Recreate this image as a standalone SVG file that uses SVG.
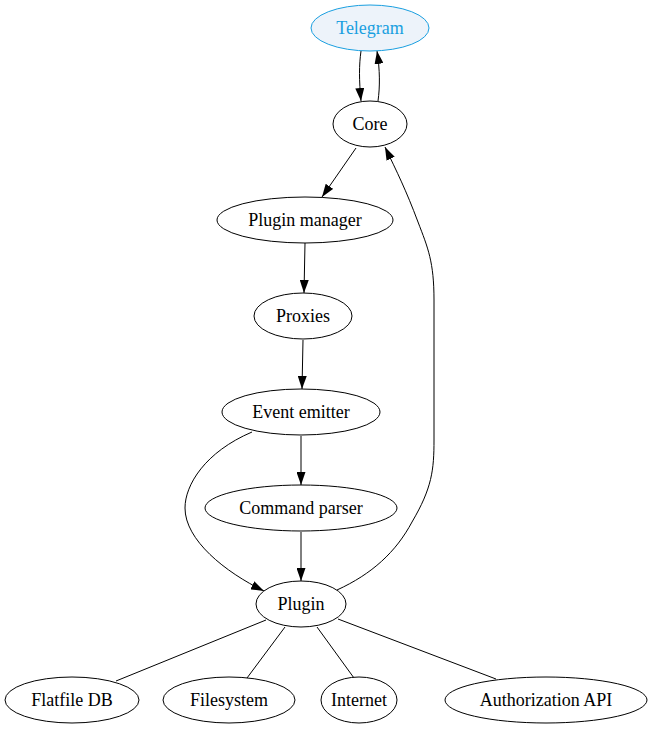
<svg xmlns="http://www.w3.org/2000/svg" width="654" height="731" viewBox="0 0 654 731">
<style>
.n ellipse{fill:#ffffff;stroke:#000000;stroke-width:1}
.n text{font-family:"Liberation Serif","Times New Roman",serif;font-size:18px;fill:#000000;text-anchor:middle}
#telegram ellipse{fill:#edf3fa;stroke:#1a9fe0}
#telegram text{fill:#1a9fe0}
.e path{fill:none;stroke:#000000;stroke-width:1}
</style>
<defs>
<marker id="ah" viewBox="0 0 13 9" refX="13" refY="4.5" markerWidth="13" markerHeight="9" markerUnits="userSpaceOnUse" orient="auto">
<path d="M0,0 L13,4.5 L0,9 Z" fill="#000000" stroke="none"/>
</marker>
</defs>
<rect width="654" height="731" fill="#ffffff"/>
<g id="edges" class="e">
<path d="M361,51 C359,65 359,80 361,101" marker-end="url(#ah)"/>
<path d="M378,101 C380,87 380,70 377,51" marker-end="url(#ah)"/>
<path d="M356,148 L322,197" marker-end="url(#ah)"/>
<path d="M305,243 L304,293" marker-end="url(#ah)"/>
<path d="M303,340 L302,389" marker-end="url(#ah)"/>
<path d="M301,436 L301,485" marker-end="url(#ah)"/>
<path d="M301,532 L301,581" marker-end="url(#ah)"/>
<path d="M252,432 C205,452 185,485 185,508 C185,540 225,572 264,591" marker-end="url(#ah)"/>
<path d="M337,590 C372,574 396,552 412,522 C432,488 434,470 434,440 L434,300 C434,262 428,248 418,222 C406,190 397,172 385,147" marker-end="url(#ah)"/>
<path d="M266,620 L116,681"/>
<path d="M285,627 L247,678"/>
<path d="M317,627 L354,678"/>
<path d="M338,619 L496,679"/>
</g>
<g id="telegram" class="n"><ellipse cx="370" cy="28" rx="59" ry="23"/><text x="370" y="34">Telegram</text></g>
<g id="core" class="n"><ellipse cx="370" cy="124" rx="37" ry="23"/><text x="370" y="130">Core</text></g>
<g id="plugin_manager" class="n"><ellipse cx="305" cy="220" rx="88" ry="23"/><text x="305" y="226">Plugin manager</text></g>
<g id="proxies" class="n"><ellipse cx="303" cy="316" rx="49" ry="23"/><text x="303" y="322">Proxies</text></g>
<g id="event_emitter" class="n"><ellipse cx="301" cy="412" rx="79" ry="23"/><text x="301" y="418">Event emitter</text></g>
<g id="command_parser" class="n"><ellipse cx="301" cy="508" rx="96" ry="23"/><text x="301" y="514">Command parser</text></g>
<g id="plugin" class="n"><ellipse cx="301" cy="604" rx="45" ry="23"/><text x="301" y="610">Plugin</text></g>
<g id="flatfile_db" class="n"><ellipse cx="72" cy="700" rx="67" ry="23"/><text x="72" y="706">Flatfile DB</text></g>
<g id="filesystem" class="n"><ellipse cx="229" cy="700" rx="66" ry="23"/><text x="229" y="706">Filesystem</text></g>
<g id="internet" class="n"><ellipse cx="359" cy="700" rx="38" ry="23"/><text x="359" y="706">Internet</text></g>
<g id="authorization_api" class="n"><ellipse cx="546" cy="700" rx="101" ry="23"/><text x="546" y="706">Authorization API</text></g>
</svg>
